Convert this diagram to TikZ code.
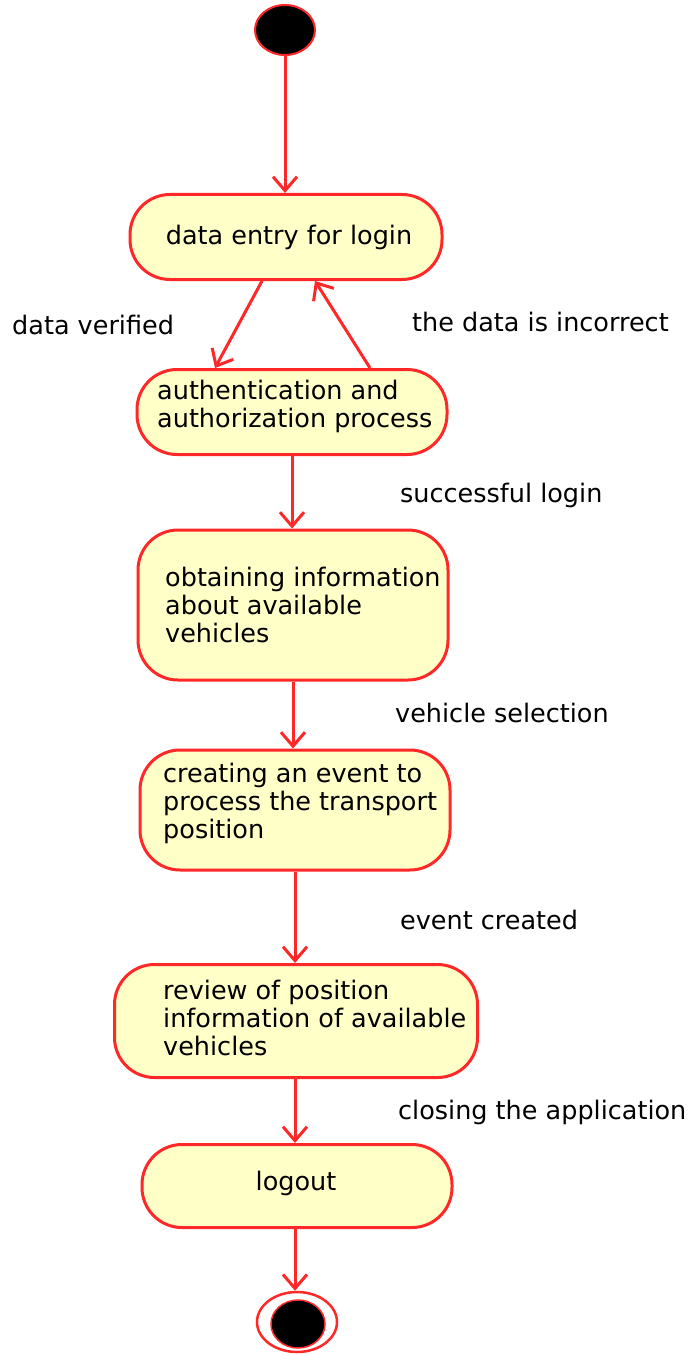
\documentclass[tikz,border=0pt]{standalone}
\usepackage{fontspec}
\setmainfont{DejaVu Sans}
\usetikzlibrary{arrows.meta,shapes.geometric}
\definecolor{ured}{RGB}{255,40,40}
\definecolor{ufill}{RGB}{255,255,200}
\begin{document}
\begin{tikzpicture}[x=1pt,y=-1pt,
  state/.style={draw=ured,line width=3pt,fill=ufill,rounded corners=40pt,inner sep=0pt},
  txt/.style={inner sep=0pt,align=left,font=\fontsize{25.5}{28}\selectfont,anchor=west},
  lbl/.style={inner sep=0pt,font=\fontsize{25.5}{28}\selectfont,anchor=west},
  arr/.style={draw=ured,line width=3pt,-{Straight Barb[length=14pt,width=24pt,line width=3pt]}}]
\useasboundingbox (0,0) rectangle (688,1356);
% start
\node[ellipse,fill=black,draw=ured,line width=2pt,minimum width=60pt,minimum height=50pt,inner sep=0pt] (start) at (285,30) {};
% states
\node[state,minimum width=312pt,minimum height=85pt] (n1) at (286,237) {};
\node[txt,anchor=center] (t1) at (289,237) {data entry for login};
\node[state,minimum width=310pt,minimum height=85pt] (n2) at (292,412) {};
\node[txt] (t2) at (157,406) {authentication and\\authorization process};
\node[state,minimum width=310pt,minimum height=150pt] (n3) at (293,605) {};
\node[txt] (t3) at (165,605) {obtaining information\\about available\\vehicles};
\node[state,minimum width=310pt,minimum height=120pt] (n4) at (295,810) {};
\node[txt] (t4) at (163,803) {creating an event to\\process the transport\\position};
\node[state,minimum width=363pt,minimum height=113pt] (n5) at (296,1021) {};
\node[txt] (t5) at (163,1018) {review of position\\information of available\\vehicles};
\node[state,minimum width=310pt,minimum height=83pt] (n6) at (297,1186) {};
\node[txt,anchor=center] (t6) at (296,1183) {logout};
% end
\node[ellipse,fill=white,draw=ured,line width=2.5pt,minimum width=80pt,minimum height=60pt,inner sep=0pt] (end) at (297,1322) {};
\node[ellipse,fill=black,draw=ured,line width=1.5pt,minimum width=54pt,minimum height=48pt,inner sep=0pt] (endin) at (298,1324) {};
% labels
\node[lbl] (l1) at (12,325) {data verified};
\node[lbl] (l2) at (412,322) {the data is incorrect};
\node[lbl] (l3) at (400,495) {successful login};
\node[lbl] (l4) at (395,713) {vehicle selection};
\node[lbl] (l5) at (400,920) {event created};
\node[lbl] (l6) at (398,1112) {closing the application};
% connectors
\draw[arr] (start.south) -- (start.south |- n1.north);
\draw[arr] ([xshift=-24pt]n1.south) -- ([xshift=-77pt]n2.north);
\draw[arr] ([xshift=78pt]n2.north) -- ([xshift=29pt]n1.south);
\draw[arr] (n2.south) -- (n2.south |- n3.north);
\draw[arr] (n3.south) -- (n3.south |- n4.north);
\draw[arr] (n4.south) -- (n4.south |- n5.north);
\draw[arr] ([xshift=-1pt]n5.south) -- ([xshift=-1pt]n5.south |- n6.north);
\draw[arr] ([xshift=-2pt]n6.south) -- ([xshift=-2pt]n6.south |- end.north);
\end{tikzpicture}
\end{document}
